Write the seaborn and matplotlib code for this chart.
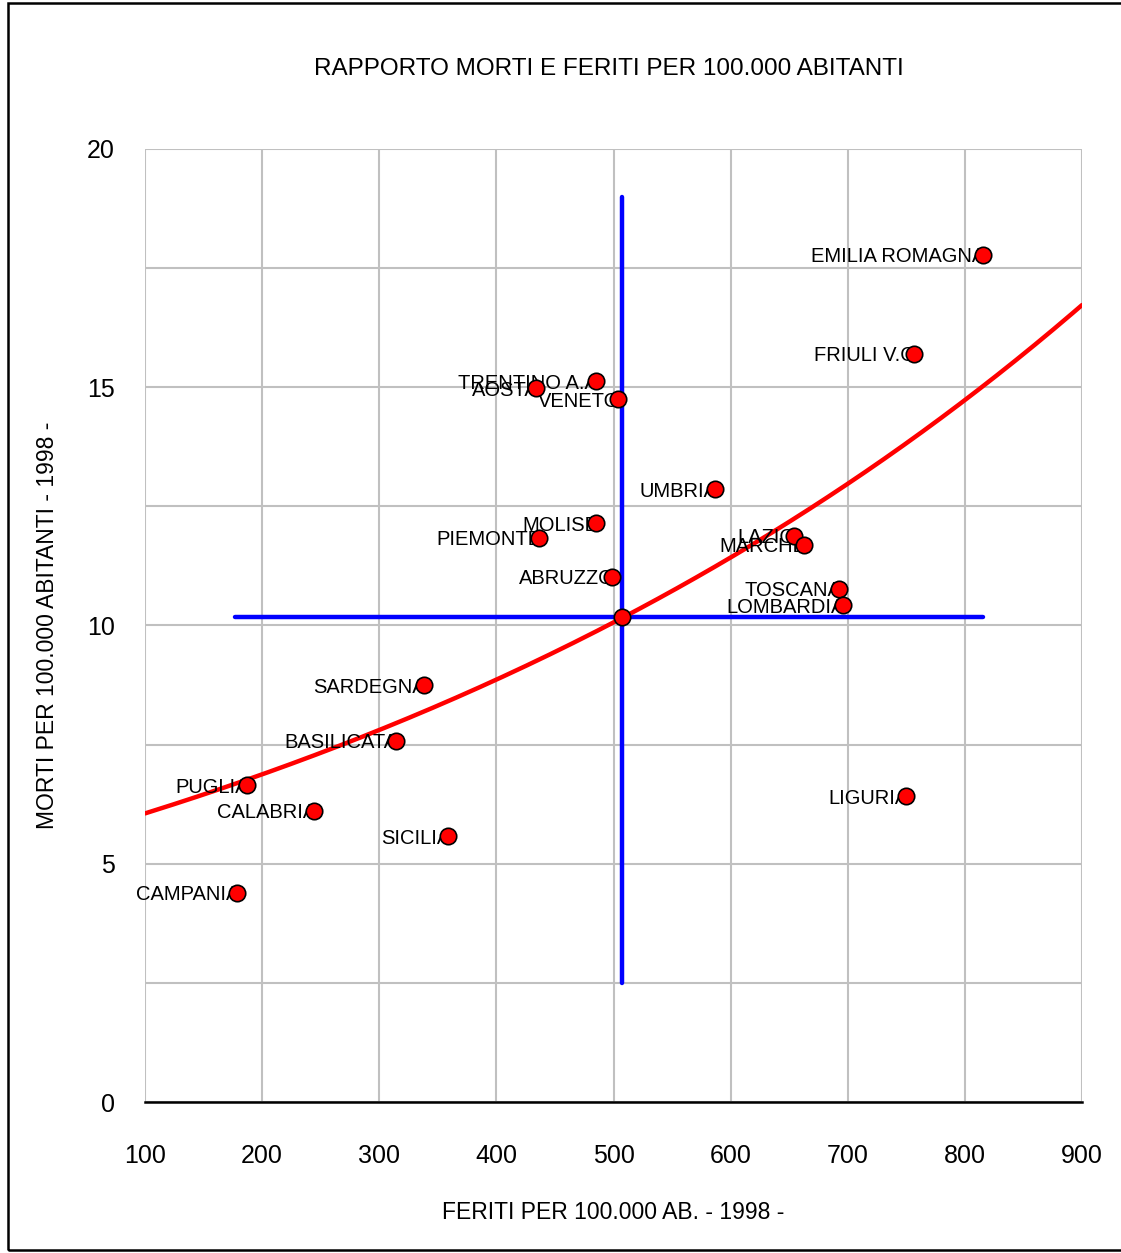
import numpy as np
import pandas as pd
import matplotlib
matplotlib.use("Agg")
import matplotlib.pyplot as plt
import seaborn as sns
from matplotlib.patches import Rectangle

sns.set_style("white")
plt.rcParams['font.family'] = ['Liberation Sans', 'DejaVu Sans']
plt.rcParams['text.color'] = 'black'
plt.rcParams['axes.labelcolor'] = 'black'
plt.rcParams['xtick.color'] = 'black'
plt.rcParams['ytick.color'] = 'black'

# regional values, 1998
regioni = ["EMILIA ROMAGNA", "FRIULI V.G", "TRENTINO A.A", "AOSTA", "VENETO",
           "UMBRIA", "MOLISE", "PIEMONTE", "LAZIO", "MARCHE", "ABRUZZO",
           "TOSCANA", "LOMBARDIA", "SARDEGNA", "BASILICATA", "PUGLIA",
           "CALABRIA", "SICILIA", "LIGURIA", "CAMPANIA"]
feriti = [815.6, 756.7, 485, 434, 504, 587, 485, 436.5, 654, 663, 499,
          692.6, 696, 338, 314, 187, 244, 359, 750, 178.6]
morti = [17.78, 15.70, 15.13, 14.98, 14.75, 12.86, 12.15, 11.84, 11.88, 11.69,
         11.02, 10.77, 10.43, 8.75, 7.58, 6.65, 6.11, 5.58, 6.42, 4.39]

# national reference (crosshair)
italia_feriti = 507
italia_morti = 10.18
croce_x = [177, 815.6]
croce_y = [2.5, 19.0]

df = pd.DataFrame({"regione": regioni, "feriti": feriti, "morti": morti})

fig = plt.figure(figsize=(11.21, 12.53), dpi=100)
ax = fig.add_axes([0.1294, 0.1205, 0.8358, 0.7606])

# exponential trend (least squares on log)
b, lna = np.polyfit(df["feriti"], np.log(df["morti"]), 1)
xt = np.linspace(100, 900, 200)
ax.plot(xt, np.exp(lna) * np.exp(b * xt), color="red", lw=3.2, zorder=3)

# crosshair through the national value
ax.plot(croce_x, [italia_morti, italia_morti], color="#0000ff", lw=3.2, zorder=2)
ax.plot([italia_feriti, italia_feriti], croce_y, color="#0000ff", lw=3.2, zorder=2)

sns.scatterplot(data=df, x="feriti", y="morti", ax=ax, color="red",
                edgecolor="black", linewidth=1.2, s=140, zorder=5)
ax.scatter([italia_feriti], [italia_morti], color="red", edgecolor="black",
           linewidth=1.2, s=140, zorder=5)

for r, fx, my in zip(regioni, feriti, morti):
    ax.annotate(r, (fx, my), xytext=(1.5, 0), textcoords="offset points",
                ha="right", va="center_baseline", fontsize=14.5, zorder=4)

ax.set_xlim(100, 900)
ax.set_ylim(0, 20)
ax.set_xticks(range(100, 1000, 100))
ax.set_yticks([0, 5, 10, 15, 20])
ax.set_yticks([2.5, 7.5, 12.5, 17.5], minor=True)
ax.grid(True, which="both", color="#c0c0c0", lw=1.5)
ax.tick_params(axis="both", which="both", length=0, labelsize=18)
ax.tick_params(axis="x", pad=30)
ax.tick_params(axis="y", pad=22)
for s in ["top", "right", "left"]:
    ax.spines[s].set_visible(False)
ax.spines["bottom"].set_color("black")
ax.spines["bottom"].set_linewidth(1.8)

ax.set_xlabel("FERITI PER 100.000 AB. - 1998 -", fontsize=16.5, labelpad=24)
ax.set_ylabel("MORTI PER 100.000 ABITANTI - 1998 -", fontsize=16.5, labelpad=20)
fig.text(0.543, 0.945, "RAPPORTO MORTI E FERITI PER 100.000 ABITANTI",
         ha="center", va="center", fontsize=17.5)

fig.patches.append(Rectangle((0.007, 0.002), 1.0, 0.996, transform=fig.transFigure,
                             fill=False, edgecolor="black", lw=1.8))

fig.savefig("out.png", dpi=100)
